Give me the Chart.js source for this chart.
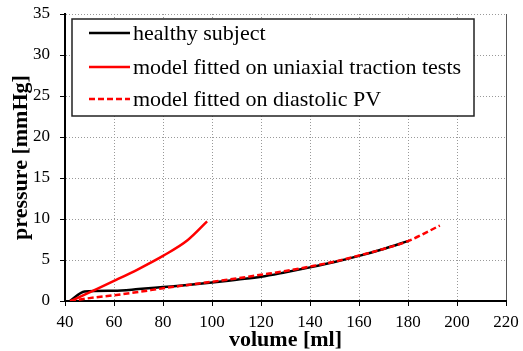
<!DOCTYPE html>
<html>
<head>
<meta charset="utf-8">
<script src="https://cdn.jsdelivr.net/npm/chart.js@4/dist/chart.umd.min.js"></script>
<style>
  html, body { margin: 0; padding: 0; background: #fff; }
  #wrap { width: 523px; height: 351px; }
</style>
</head>
<body>
<div id="wrap"><canvas id="pvChart" width="523" height="351"></canvas></div>
<script>
// ========================================
// Data
// ========================================
const healthyVol = [42, 48, 60, 70, 80, 90, 100, 110, 120, 130, 140, 150, 160, 170, 180];
const healthyP   = [0, 1.15, 1.25, 1.45, 1.7, 1.95, 2.25, 2.6, 2.95, 3.5, 4.1, 4.75, 5.5, 6.35, 7.3];

const uniaxialVol = [42.5, 50, 60, 70, 80, 90, 98];
const uniaxialP   = [0, 1.05, 2.45, 3.9, 5.5, 7.4, 9.7];

const diastolicVol = [42, 50, 60, 70, 80, 90, 100, 110, 120, 130, 140, 150, 160, 170, 180, 193];
const diastolicP   = [0, 0.35, 0.7, 1.1, 1.55, 1.95, 2.35, 2.75, 3.2, 3.65, 4.2, 4.8, 5.55, 6.35, 7.3, 9.2];

const seriesLabels = ['healthy subject', 'model fitted on uniaxial traction tests', 'model fitted on diastolic PV'];

const xTicks = { min: 40, max: 220, step: 20 };
const yTicks = { min: 0, max: 35, step: 5 };

const SERIF = "'Liberation Serif', 'Times New Roman', serif";

function toPoints(xs, ys) {
    return xs.map((x, i) => ({ x: x, y: ys[i] }));
}

// ========================================
// Legend drawn inside the plot area
// ========================================
const boxLegend = {
    id: 'boxLegend',
    afterDatasetsDraw(chart) {
        const ctx = chart.ctx;
        const left = 72, top = 19, right = 474, bottom = 116;
        ctx.save();
        ctx.fillStyle = '#fff';
        ctx.fillRect(left, top, right - left, bottom - top);
        ctx.strokeStyle = '#222';
        ctx.lineWidth = 1.5;
        ctx.strokeRect(left, top, right - left, bottom - top);

        const rows = [33, 67, 99];
        ctx.font = '22px ' + SERIF;
        ctx.textBaseline = 'middle';
        ctx.textAlign = 'left';
        chart.data.datasets.forEach((ds, i) => {
            const y = rows[i];
            ctx.beginPath();
            ctx.setLineDash(ds.borderDash || []);
            ctx.strokeStyle = ds.borderColor;
            ctx.lineWidth = ds.borderWidth;
            ctx.moveTo(89, y);
            ctx.lineTo(130, y);
            ctx.stroke();
            ctx.setLineDash([]);
            ctx.fillStyle = '#000';
            ctx.fillText(ds.label, 133, y + 1);
        });
        ctx.restore();
    }
};

// ========================================
// Chart
// ========================================
const ctx = document.getElementById('pvChart');
new Chart(ctx, {
    type: 'line',
    data: {
        datasets: [
            {
                label: seriesLabels[0],
                data: toPoints(healthyVol, healthyP),
                borderColor: '#000',
                borderWidth: 2.5,
                order: 3
            },
            {
                label: seriesLabels[1],
                data: toPoints(uniaxialVol, uniaxialP),
                borderColor: '#ff0000',
                borderWidth: 2.5,
                order: 2
            },
            {
                label: seriesLabels[2],
                data: toPoints(diastolicVol, diastolicP),
                borderColor: '#ff0000',
                borderWidth: 2.5,
                borderDash: [6, 3],
                order: 1
            }
        ]
    },
    options: {
        responsive: false,
        animation: false,
        events: [],
        layout: { padding: { top: 14, right: 17, left: 0, bottom: 0 } },
        elements: {
            point: { radius: 0 },
            line: { cubicInterpolationMode: 'monotone', fill: false }
        },
        plugins: {
            legend: { display: false },
            tooltip: { enabled: false }
        },
        scales: {
            x: {
                type: 'linear',
                min: xTicks.min,
                max: xTicks.max,
                afterFit: (s) => {
                    s.height = 50;
                    s.paddingLeft = 0;
                    s.paddingRight = 0;
                },
                ticks: {
                    stepSize: xTicks.step,
                    color: '#000',
                    padding: 6,
                    maxRotation: 0,
                    font: { family: SERIF, size: 17 }
                },
                grid: {
                    color: (c) => (c.tick && c.tick.value === xTicks.max) ? '#555' : '#999',
                    lineWidth: 1,
                    tickLength: 5,
                    tickColor: '#000',
                    tickBorderDash: []
                },
                border: {
                    color: '#000',
                    width: 2,
                    dash: (c) => (c.tick && c.tick.value === xTicks.max) ? [] : [1, 2]
                },
                title: {
                    display: true,
                    text: 'volume [ml]',
                    color: '#000',
                    padding: { top: 0, bottom: 0 },
                    font: { family: SERIF, size: 22, weight: 'bold', lineHeight: 1 }
                }
            },
            y: {
                min: yTicks.min,
                max: yTicks.max,
                afterFit: (s) => {
                    s.width = 65;
                    s.paddingTop = 0;
                    s.paddingBottom = 0;
                },
                ticks: {
                    stepSize: yTicks.step,
                    color: '#000',
                    padding: 10,
                    font: { family: SERIF, size: 17 }
                },
                grid: {
                    color: '#999',
                    lineWidth: 1,
                    tickLength: 5,
                    tickColor: '#000',
                    tickBorderDash: []
                },
                border: {
                    color: '#000',
                    width: 2,
                    dash: [1, 2]
                },
                title: {
                    display: true,
                    text: 'pressure [mmHg]',
                    color: '#000',
                    padding: { top: 10, bottom: 0 },
                    font: { family: SERIF, size: 22, weight: 'bold', lineHeight: 1 }
                }
            }
        }
    },
    plugins: [boxLegend]
});
</script>
</body>
</html>
